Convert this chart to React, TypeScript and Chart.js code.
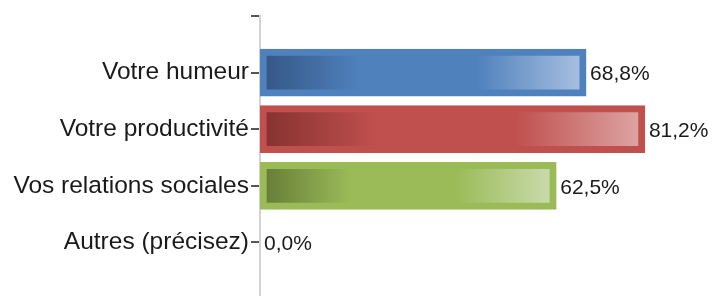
import React, { useEffect, useRef } from "react";
import { Chart, registerables } from "chart.js";

Chart.register(...registerables);

const categories = ["", "Votre humeur", "Votre productivité", "Vos relations sociales", "Autres (précisez)", ""];
const values: (number | null)[] = [null, 68.8, 81.2, 62.5, 0.0, null];
const mainColors = ["#4F81BD", "#4F81BD", "#C0504D", "#9BBB59", "#4F81BD", "#4F81BD"];
const darkColors = ["#365887", "#365887", "#873331", "#687F38", "#365887", "#365887"];
const lightColors = ["#A6BEDF", "#A6BEDF", "#DCA3A2", "#C9DAAA", "#A6BEDF", "#A6BEDF"];

const FONT = "'Liberation Sans', Arial, sans-serif";
const INSET = 7;

const valueLabels = {
  id: "valueLabels",
  afterDatasetsDraw(chart: any) {
    const ctx = chart.ctx;
    const meta = chart.getDatasetMeta(0);
    ctx.save();
    ctx.font = `21px ${FONT}`;
    ctx.fillStyle = "#1a1a1a";
    ctx.textAlign = "left";
    ctx.textBaseline = "middle";
    meta.data.forEach((el: any, i: number) => {
      const v = values[i];
      if (v === null || v === undefined) return;
      const txt = v.toFixed(1).replace(".", ",") + "%";
      ctx.fillText(txt, el.x + 4, el.y + 2);
    });
    ctx.restore();
  },
};

export default function App() {
  const ref = useRef<HTMLCanvasElement | null>(null);
  useEffect(() => {
    const canvas = ref.current!;
    const chart = new Chart(canvas, {
      type: "bar",
      data: {
        labels: categories,
        datasets: [
          {
            data: values as any,
            barThickness: 47,
            borderWidth: INSET,
            borderSkipped: false,
            borderColor: (c: any) => mainColors[c.dataIndex],
            backgroundColor: (c: any) => {
              const chart = c.chart;
              const xs = chart.scales?.x;
              const v = values[c.dataIndex];
              if (!xs || v === null || v === undefined) return mainColors[c.dataIndex];
              const x0 = xs.getPixelForValue(0) + INSET;
              const x1 = xs.getPixelForValue(v) - INSET;
              if (!(x1 > x0)) return mainColors[c.dataIndex];
              const g = chart.ctx.createLinearGradient(x0, 0, x1, 0);
              g.addColorStop(0, darkColors[c.dataIndex]);
              g.addColorStop(0.3, mainColors[c.dataIndex]);
              g.addColorStop(0.67, mainColors[c.dataIndex]);
              g.addColorStop(1, lightColors[c.dataIndex]);
              return g;
            },
          },
        ],
      },
      options: {
        indexAxis: "y",
        responsive: false,
        animation: false,
        layout: { padding: { top: 16, left: 0, right: 0, bottom: 0 } },
        plugins: { legend: { display: false }, tooltip: { enabled: false } },
        scales: {
          x: { display: false, min: 0, max: 100 },
          y: {
            offset: false,
            grid: {
              offset: false,
              drawOnChartArea: false,
              drawTicks: true,
              tickLength: 9,
              tickColor: "#555555",
              lineWidth: 2,
            },
            border: { display: true, color: "#d2d2d2", width: 2 },
            ticks: {
              padding: 2,
              color: "#1a1a1a",
              font: { family: FONT, size: 24.5 },
              autoSkip: false,
            },
            afterFit: (scale: any) => {
              scale.width = 260;
              scale.paddingTop = 0;
              scale.paddingBottom = 0;
            },
          },
        },
      },
      plugins: [valueLabels],
    });
    return () => chart.destroy();
  }, []);
  return (
    <div style={{ position: "fixed", left: 0, top: 0, width: 713, height: 296, overflow: "hidden", background: "#fff" }}>
      <canvas ref={ref} width={734} height={299} style={{ display: "block", width: 734, height: 299 }} />
    </div>
  );
}
